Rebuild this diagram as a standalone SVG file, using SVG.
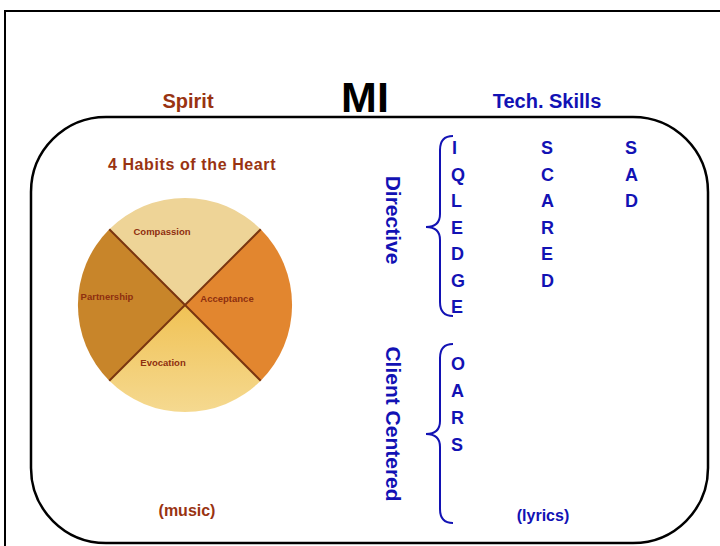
<svg xmlns="http://www.w3.org/2000/svg" width="720" height="546" viewBox="0 0 720 546">
<defs>
<style>
.t{font-family:"Liberation Sans",Arial,sans-serif;font-weight:bold}
.br{fill:#993311}
.bl{fill:#1212B4}
.lt{font-size:18px}
.pl{font-size:9.5px;fill:#8E2F10;text-anchor:middle}
.brace{fill:none;stroke:#1212B4;stroke-width:2}
</style>
<linearGradient id="gBot" x1="0" y1="0" x2="0" y2="1">
<stop offset="0" stop-color="#F0C255"/>
<stop offset="1" stop-color="#F5D990"/>
</linearGradient>
</defs>
<rect width="720" height="546" fill="#FFFFFF"/>
<path d="M5,546 V11 H720" fill="none" stroke="#000" stroke-width="2"/>
<rect x="31" y="117" width="677" height="426" rx="75" ry="75" fill="none" stroke="#000" stroke-width="2.5"/>

<g id="title">
<text class="t" x="365" y="112" font-size="43" text-anchor="middle" fill="#000">MI</text>
</g>
<g id="spirit">
<text class="t br" x="188" y="108" font-size="20" text-anchor="middle">Spirit</text>
<text class="t br" x="192" y="170" font-size="16" letter-spacing="0.6" text-anchor="middle">4 Habits of the Heart</text>
<text class="t br" x="187" y="516" font-size="16" text-anchor="middle">(music)</text>
</g>
<g id="pie">
<path d="M185,305 L109.3,229.3 A107,107 0 0 1 260.7,229.3 Z" fill="#EED497"/>
<path d="M185,305 L260.7,229.3 A107,107 0 0 1 260.7,380.7 Z" fill="#E2862F"/>
<path d="M185,305 L260.7,380.7 A107,107 0 0 1 109.3,380.7 Z" fill="url(#gBot)"/>
<path d="M185,305 L109.3,380.7 A107,107 0 0 1 109.3,229.3 Z" fill="#C8852A"/>
<path d="M109.3,229.3 L260.7,380.7 M260.7,229.3 L109.3,380.7" stroke="#7A3510" stroke-width="2" fill="none"/>
<text class="t pl" x="162" y="235">Compassion</text>
<text class="t pl" x="107" y="300">Partnership</text>
<text class="t pl" x="227" y="302">Acceptance</text>
<text class="t pl" x="163" y="366">Evocation</text>
</g>
<g id="tech">
<text class="t bl" x="547" y="108" font-size="20" text-anchor="middle">Tech. Skills</text>
<text class="t bl" x="543" y="521" font-size="16" text-anchor="middle">(lyrics)</text>
</g>
<g id="directive">
<text class="t bl" transform="translate(386,220) rotate(90)" font-size="21" text-anchor="middle">Directive</text>
<g class="t bl lt">
<text x="452" y="154">I</text>
<text x="451" y="180.5">Q</text>
<text x="451" y="207">L</text>
<text x="451" y="233.5">E</text>
<text x="451" y="260">D</text>
<text x="451" y="286.5">G</text>
<text x="451" y="313">E</text>
</g>
<g class="t bl lt">
<text x="541" y="154">S</text>
<text x="541" y="180.5">C</text>
<text x="541" y="207">A</text>
<text x="541" y="233.5">R</text>
<text x="541" y="260">E</text>
<text x="541" y="286.5">D</text>
</g>
<g class="t bl lt">
<text x="625" y="154">S</text>
<text x="625" y="180.5">A</text>
<text x="625" y="207">D</text>
</g>
</g>
<g id="client">
<text class="t bl" transform="translate(386,424) rotate(90)" font-size="21" text-anchor="middle">Client Centered</text>
<g class="t bl lt">
<text x="451" y="369.5">O</text>
<text x="451" y="396.5">A</text>
<text x="451" y="423.5">R</text>
<text x="451" y="450.5">S</text>
</g>
</g>
<g id="connectors">
<path class="brace" d="M453,136 Q440,136 440,150 V214 Q440,227 426,227 Q440,227 440,240 V302 Q440,316 453,316"/>
<path class="brace" d="M453,344 Q440,344 440,358 V421 Q440,434 426,434 Q440,434 440,447 V509 Q440,523 453,523"/>
</g>
</svg>
